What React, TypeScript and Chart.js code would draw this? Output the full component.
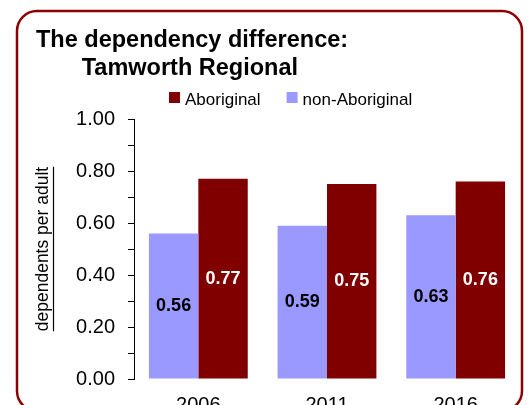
import React, { useEffect, useRef } from "react";
import { Chart, registerables } from "chart.js";

Chart.register(...registerables);

const categories = ["2006", "2011", "2016"];
const nonAboriginal = [0.56, 0.59, 0.63];
const aboriginal = [0.77, 0.75, 0.76];
const titleLines = ["The dependency difference:", "       Tamworth Regional"];
const yAxisTitle = "dependents per adult";
const seriesNames = ["non-Aboriginal", "Aboriginal"];
const legendOrder = ["Aboriginal", "non-Aboriginal"];

const FONT = "'Liberation Sans', Arial, Helvetica, sans-serif";
const COL_NON = "#9999FF";
const COL_ABO = "#800000";
const FRAME = "#8B0000";

const framePlugin = {
  id: "frame",
  beforeDraw(chart: any) {
    const ctx = chart.ctx;
    ctx.save();
    ctx.fillStyle = "#ffffff";
    ctx.fillRect(0, 0, chart.width, chart.height);
    ctx.beginPath();
    ctx.roundRect(17, 11, 505, 400, 20);
    ctx.strokeStyle = FRAME;
    ctx.lineWidth = 2.5;
    ctx.stroke();
    ctx.restore();
  },
};

const legendPlugin = {
  id: "customLegend",
  afterDraw(chart: any) {
    const ctx = chart.ctx;
    ctx.save();
    ctx.font = `17px ${FONT}`;
    ctx.textBaseline = "alphabetic";
    ctx.textAlign = "left";
    let x = 169;
    legendOrder.forEach((name) => {
      const idx = chart.data.datasets.findIndex((d: any) => d.label === name);
      const ds = chart.data.datasets[idx];
      ctx.fillStyle = ds.backgroundColor;
      ctx.fillRect(x, 92, 11, 11);
      ctx.fillStyle = "#000";
      ctx.fillText(name, x + 16, 105);
      x += 16 + ctx.measureText(name).width + 26;
    });
    ctx.restore();
  },
};

const labelPlugin = {
  id: "barLabels",
  afterDatasetsDraw(chart: any) {
    const ctx = chart.ctx;
    ctx.save();
    ctx.font = `bold 18px ${FONT}`;
    ctx.textAlign = "center";
    ctx.textBaseline = "middle";
    chart.data.datasets.forEach((ds: any, di: number) => {
      const meta = chart.getDatasetMeta(di);
      ctx.fillStyle = ds.label === "Aboriginal" ? "#ffffff" : "#000000";
      meta.data.forEach((bar: any, i: number) => {
        const v = ds.data[i];
        ctx.fillText(v.toFixed(2), bar.x, (bar.y + bar.base) / 2);
      });
    });
    ctx.restore();
  },
};

const underlinePlugin = {
  id: "axisTitleUnderline",
  afterDraw(chart: any) {
    const ctx = chart.ctx;
    const area = chart.chartArea;
    ctx.save();
    ctx.font = `17.5px ${FONT}`;
    const w = ctx.measureText(yAxisTitle).width;
    const cy = (area.top + area.bottom) / 2;
    ctx.strokeStyle = "#000";
    ctx.lineWidth = 1.2;
    ctx.beginPath();
    ctx.moveTo(53.5, cy - w / 2);
    ctx.lineTo(53.5, cy + w / 2);
    ctx.stroke();
    ctx.restore();
  },
};

export default function App() {
  const ref = useRef<HTMLCanvasElement | null>(null);

  useEffect(() => {
    if (!ref.current) return;
    const chart = new Chart(ref.current, {
      type: "bar",
      data: {
        labels: categories,
        datasets: [
          {
            label: seriesNames[0],
            data: nonAboriginal,
            backgroundColor: COL_NON,
            categoryPercentage: 0.768,
            barPercentage: 1,
          },
          {
            label: seriesNames[1],
            data: aboriginal,
            backgroundColor: COL_ABO,
            categoryPercentage: 0.768,
            barPercentage: 1,
          },
        ],
      },
      options: {
        responsive: false,
        animation: false,
        events: [],
        layout: { padding: { left: 36, right: 11, top: 0, bottom: 0 } },
        plugins: {
          legend: { display: false },
          tooltip: { enabled: false },
          title: {
            display: true,
            text: titleLines,
            align: "start",
            color: "#000",
            font: { family: FONT, size: 23.5, weight: "bold", lineHeight: 1.15 },
            padding: { top: 27.5, bottom: 37.5 },
          },
        },
        scales: {
          x: {
            grid: { display: false },
            border: { display: false },
            ticks: {
              color: "#000",
              font: { family: FONT, size: 20 },
              padding: 6,
              maxRotation: 0,
            },
            afterFit(scale: any) {
              scale.height = 46;
            },
          },
          y: {
            min: 0,
            max: 1,
            grid: {
              display: true,
              drawOnChartArea: false,
              drawTicks: true,
              tickLength: 6,
              color: "#000",
              lineWidth: 1,
            },
            border: { display: true, color: "#000", width: 1 },
            ticks: {
              stepSize: 0.1,
              autoSkip: false,
              color: "#000",
              font: { family: FONT, size: 20 },
              padding: 13,
              callback: (value: any, index: number) =>
                index % 2 === 0 ? Number(value).toFixed(2) : "",
            },
            title: {
              display: true,
              text: yAxisTitle,
              color: "#000",
              font: { family: FONT, size: 17.5, lineHeight: 0.8 },
              padding: { top: 0, bottom: 0 },
            },
            afterFit(scale: any) {
              scale.width = 98;
            },
          },
        },
      },
      plugins: [framePlugin, labelPlugin, legendPlugin, underlinePlugin],
    } as any);
    return () => chart.destroy();
  }, []);

  return (
    <div
      style={{
        position: "fixed",
        left: 0,
        top: 0,
        width: 531,
        height: 425,
        background: "#fff",
      }}
    >
      <canvas ref={ref} width={531} height={425} style={{ display: "block" }} />
    </div>
  );
}
